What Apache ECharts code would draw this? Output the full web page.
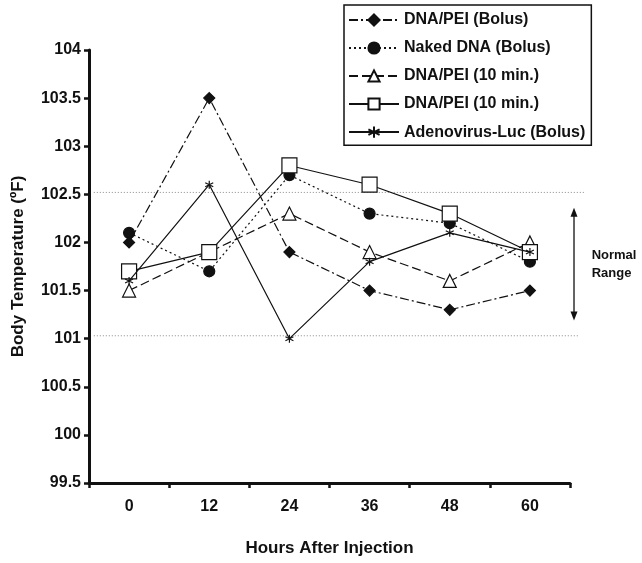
<!DOCTYPE html>
<html>
<head>
<meta charset="utf-8">
<script src="https://cdn.jsdelivr.net/npm/echarts@6/dist/echarts.min.js"></script>
<style>
html,body{margin:0;padding:0;background:#fff;}
#c{width:642px;height:563px;}
</style>
</head>
<body>
<div id="c"></div>
<script>
var hours = ['0', '12', '24', '36', '48', '60'];
var dnaPeiBolus = [102.0, 103.5, 101.9, 101.5, 101.3, 101.5];
var nakedDnaBolus = [102.1, 101.7, 102.7, 102.3, 102.2, 101.8];
var dnaPei10a = [101.5, 101.9, 102.3, 101.9, 101.6, 102.0];
var dnaPei10b = [101.7, 101.9, 102.8, 102.6, 102.3, 101.9];
var adenoLuc = [101.6, 102.6, 101.0, 101.8, 102.1, 101.9];
var normalUpper = 102.52;
var normalLower = 101.03;
var arrowTop = 102.36;
var arrowBottom = 101.19;

var FONT = '"Liberation Sans", Arial, sans-serif';
var INK = '#111';
var asterisk = 'path://M0,-10 L0,10 M-8.7,-5 L8.7,5 M-8.7,5 L8.7,-5';

function mk(name, data, symbol, size, fill, dash, z) {
  return {
    name: name, type: 'line', data: data, symbol: symbol, symbolSize: size,
    showAllSymbol: true, z: z,
    lineStyle: {color: INK, width: 1.2, type: dash},
    itemStyle: {color: fill, borderColor: INK, borderWidth: 1.2},
    emphasis: {disabled: true}
  };
}

var chart = echarts.init(document.getElementById('c'));
chart.setOption({
  animation: false,
  backgroundColor: '#fff',
  grid: {left: 89, right: 72, top: 50, bottom: 80},
  legend: {
    left: 344, top: 5, orient: 'vertical',
    borderColor: INK, borderWidth: 1.5,
    padding: [7, 6, 5, 4],
    itemWidth: 50, itemHeight: 14, itemGap: 12,
    textStyle: {fontFamily: FONT, fontWeight: 'bold', fontSize: 16, color: INK},
    data: ['DNA/PEI (Bolus)', 'Naked DNA (Bolus)', 'DNA/PEI (10 min.)', 'DNA/PEI (10 min.) ', 'Adenovirus-Luc (Bolus)']
  },
  xAxis: {
    type: 'category', data: hours, boundaryGap: true,
    name: 'Hours After Injection', nameLocation: 'middle', nameGap: 57,
    nameTextStyle: {fontFamily: FONT, fontWeight: 'bold', fontSize: 17, color: INK},
    axisLine: {lineStyle: {color: INK, width: 3}},
    axisTick: {show: true, length: 5, lineStyle: {color: INK, width: 2.5}},
    axisLabel: {fontFamily: FONT, fontWeight: 'bold', fontSize: 16, color: INK, margin: 16},
    splitLine: {show: false}
  },
  yAxis: {
    type: 'value', min: 99.5, max: 104, interval: 0.5,
    name: 'Body Temperature (ºF)', nameLocation: 'middle', nameGap: 62,
    nameTextStyle: {fontFamily: FONT, fontWeight: 'bold', fontSize: 17, color: INK},
    axisLine: {show: true, lineStyle: {color: INK, width: 3}},
    axisTick: {show: true, length: 5, lineStyle: {color: INK, width: 2.5}},
    axisLabel: {fontFamily: FONT, fontWeight: 'bold', fontSize: 16, color: INK, margin: 8},
    splitLine: {show: false}
  },
  series: [
    mk('DNA/PEI (Bolus)', dnaPeiBolus, 'diamond', 11, INK, [9, 3, 2, 3], 5),
    mk('Naked DNA (Bolus)', nakedDnaBolus, 'circle', 11, INK, [2, 3], 4),
    mk('DNA/PEI (10 min.)', dnaPei10a, 'triangle', 13, '#fff', [9, 4], 3),
    mk('DNA/PEI (10 min.) ', dnaPei10b, 'rect', 15, '#fff', 'solid', 6),
    mk('Adenovirus-Luc (Bolus)', adenoLuc, asterisk, 8, 'none', 'solid', 7)
  ]
});

// extrapolate category positions linearly from the library's own scale
var p0 = chart.convertToPixel({gridIndex: 0}, [0, normalUpper]);
var p1 = chart.convertToPixel({gridIndex: 0}, [1, normalUpper]);
var band = p1[0] - p0[0];
function px(i, v) {
  var y = chart.convertToPixel({gridIndex: 0}, [0, v])[1];
  return [p0[0] + i * band, y];
}
var uL = px(-0.44, normalUpper), uR = px(5.69, normalUpper);
var lL = px(-0.44, normalLower), lR = px(5.6, normalLower);
var aT = px(5.55, arrowTop), aB = px(5.55, arrowBottom);
var txt = px(5.77, (arrowTop + arrowBottom) / 2);

chart.setOption({
  graphic: [
    {type: 'line', z: 1, shape: {x1: uL[0], y1: uL[1], x2: uR[0], y2: uR[1]},
     style: {stroke: '#888', lineWidth: 1, lineDash: [1, 2]}},
    {type: 'line', z: 1, shape: {x1: lL[0], y1: lL[1], x2: lR[0], y2: lR[1]},
     style: {stroke: '#888', lineWidth: 1, lineDash: [1, 2]}},
    {type: 'line', z: 1, shape: {x1: aT[0], y1: aT[1] + 4, x2: aB[0], y2: aB[1] - 4},
     style: {stroke: INK, lineWidth: 1.3}},
    {type: 'polygon', z: 1, shape: {points: [[aT[0], aT[1]], [aT[0] - 3.5, aT[1] + 9], [aT[0] + 3.5, aT[1] + 9]]},
     style: {fill: INK}},
    {type: 'polygon', z: 1, shape: {points: [[aB[0], aB[1]], [aB[0] - 3.5, aB[1] - 9], [aB[0] + 3.5, aB[1] - 9]]},
     style: {fill: INK}},
    {type: 'text', z: 1, x: txt[0], y: txt[1],
     style: {text: 'Normal\nRange', fontFamily: FONT, fontWeight: 'bold', fontSize: 13, lineHeight: 18,
             fill: INK, align: 'left', verticalAlign: 'middle'}}
  ]
});
</script>
</body>
</html>
